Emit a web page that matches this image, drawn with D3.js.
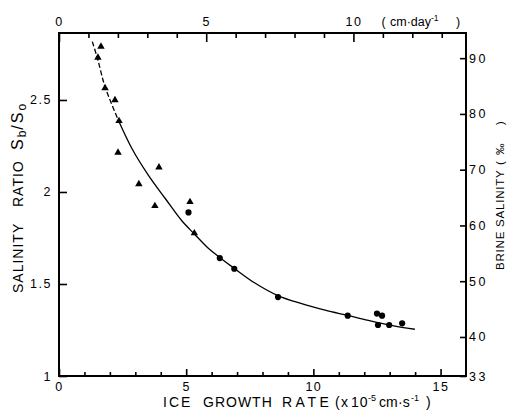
<!DOCTYPE html>
<html>
<head>
<meta charset="utf-8">
<script src="https://cdn.jsdelivr.net/npm/d3@7"></script>
<style>
  html, body { margin: 0; padding: 0; background: #fff; }
  svg { display: block; }
  text { font-family: "Liberation Sans", Arial, sans-serif; fill: #000; }
</style>
</head>
<body>
<svg id="chart" width="507" height="416"></svg>
<script>
// Brine salinity ratio Sb/So against ice growth rate (x10^-5 cm/s)
const triangleRate  = [1.65, 1.53, 1.81, 2.20, 2.36, 2.32, 3.93, 3.14, 3.77, 5.15, 5.32];
const triangleRatio = [2.79, 2.73, 2.565, 2.50, 2.386, 2.214, 2.134, 2.043, 1.924, 1.946, 1.776];
const circleRate  = [5.09, 6.32, 6.89, 8.61, 11.35, 12.50, 12.70, 12.54, 12.98, 13.49];
const circleRatio = [1.889, 1.641, 1.583, 1.429, 1.328, 1.339, 1.328, 1.277, 1.277, 1.286];

// fitted curve: dashed upper end, solid remainder
const fitUpperRate  = [1.31, 1.51, 1.81, 2.33];
const fitUpperRatio = [2.817, 2.727, 2.572, 2.391];
const fitLowerRate  = [2.33, 2.86, 3.51, 4.17, 4.82, 5.32, 5.87, 6.33, 6.89, 7.70, 8.60, 9.54, 10.46, 11.35, 12.16, 13.21, 13.99];
const fitLowerRatio = [2.391, 2.238, 2.092, 1.966, 1.845, 1.772, 1.694, 1.643, 1.585, 1.505, 1.437, 1.393, 1.358, 1.329, 1.302, 1.271, 1.254];

// axis ticks
const bottomMajor = [0, 5, 10, 15];
const bottomMinor = [1, 2, 3, 4, 6, 7, 8, 9, 11, 12, 13, 14];
const topMajor = [0, 5, 10];
const topMinor = [1, 2, 3, 4, 6, 7, 8, 9, 11, 12, 13];
const leftTicks = [1, 1.5, 2, 2.5];
const rightTicks = [33, 40, 50, 60, 70, 80, 90];

const rateMax = 16;          // x10^-5 cm/s
const ratioMax = 2.864;
const seawaterSalinity = 33; // So, per mille
const cmPerDay = 0.864;      // 1x10^-5 cm/s in cm/day

const svg = d3.select("#chart");
const L = 59, R = 466, T = 33, B = 376;

const x = d3.scaleLinear().domain([0, rateMax]).range([L, R]);
const y = d3.scaleLinear().domain([1, ratioMax]).range([B, T]);
const xTop = d3.scaleLinear().domain([0, rateMax * cmPerDay]).range([L, R]);
const yRight = d3.scaleLinear().domain([seawaterSalinity, ratioMax * seawaterSalinity]).range([B, T]);

function styleAxis(g, size, spacing) {
  g.select(".domain").remove();
  g.selectAll(".tick line").attr("stroke", "#000").attr("stroke-width", 1.6);
  g.selectAll(".tick text")
    .attr("font-family", "Liberation Sans, Arial, sans-serif")
    .attr("font-size", size)
    .attr("letter-spacing", spacing)
    .attr("fill", "#000");
}

// bottom axis
svg.append("g").attr("transform", `translate(0,${B})`)
  .call(d3.axisBottom(x).tickValues(bottomMinor).tickSizeInner(-4).tickSizeOuter(0).tickFormat(""))
  .call(g => styleAxis(g, 12, 0));
svg.append("g").attr("transform", `translate(0,${B})`)
  .call(d3.axisBottom(x).tickValues(bottomMajor).tickSizeInner(-7).tickSizeOuter(0).tickPadding(6).tickFormat(d => String(d)))
  .call(g => styleAxis(g, 12.5, 1.5));

// top axis (cm per day)
svg.append("g").attr("transform", `translate(0,${T})`)
  .call(d3.axisTop(xTop).tickValues(topMinor).tickSizeInner(-5).tickSizeOuter(0).tickFormat(""))
  .call(g => styleAxis(g, 12, 0));
svg.append("g").attr("transform", `translate(0,${T})`)
  .call(d3.axisTop(xTop).tickValues(topMajor).tickSizeInner(-9).tickSizeOuter(0).tickPadding(7).tickFormat(d => String(d)))
  .call(g => styleAxis(g, 12.5, 1.5));

// left axis (ratio)
svg.append("g").attr("transform", `translate(${L},0)`)
  .call(d3.axisLeft(y).tickValues(leftTicks).tickSizeInner(-8).tickSizeOuter(0).tickPadding(7).tickFormat(d => String(d)))
  .call(g => styleAxis(g, 12.5, 1.5));

// right axis (brine salinity)
svg.append("g").attr("transform", `translate(${R},0)`)
  .call(d3.axisRight(yRight).tickValues(rightTicks).tickSizeInner(-6).tickSizeOuter(0).tickPadding(3).tickFormat(d => String(d)))
  .call(g => styleAxis(g, 12.5, 2.5));

// frame
svg.append("rect")
  .attr("x", L).attr("y", T).attr("width", R - L).attr("height", B - T)
  .attr("fill", "none").attr("stroke", "#000").attr("stroke-width", 2);

// fitted curve
const line = d3.line().x(d => x(d[0])).y(d => y(d[1])).curve(d3.curveCatmullRom.alpha(0.5));
svg.append("path").datum(d3.zip(fitUpperRate, fitUpperRatio))
  .attr("d", line).attr("fill", "none").attr("stroke", "#000")
  .attr("stroke-width", 1.3).attr("stroke-dasharray", "5,2.5");
svg.append("path").datum(d3.zip(fitLowerRate, fitLowerRatio))
  .attr("d", line).attr("fill", "none").attr("stroke", "#000").attr("stroke-width", 1.3);

// observations
svg.append("g").selectAll("path").data(d3.zip(triangleRate, triangleRatio)).join("path")
  .attr("transform", d => `translate(${x(d[0])},${y(d[1])})`)
  .attr("d", d3.symbol().type(d3.symbolTriangle).size(24))
  .attr("fill", "#000");
svg.append("g").selectAll("path").data(d3.zip(circleRate, circleRatio)).join("path")
  .attr("transform", d => `translate(${x(d[0])},${y(d[1])})`)
  .attr("d", d3.symbol().type(d3.symbolCircle).size(30))
  .attr("fill", "#000");

// bottom title
const bt = svg.append("text").attr("y", 406.5).attr("font-size", 14);
bt.append("tspan").attr("x", 163).attr("letter-spacing", 2).text("ICE");
bt.append("tspan").attr("x", 203).attr("letter-spacing", 1).text("GROWTH");
bt.append("tspan").attr("x", 282).attr("letter-spacing", 3.5).text("RATE");
bt.append("tspan").attr("x", 335).text("(");
bt.append("tspan").attr("x", 341).text("x");
bt.append("tspan").attr("x", 351).attr("letter-spacing", 1).text("10");
bt.append("tspan").attr("x", 368).attr("font-size", 9).attr("dy", -6).text("-5");
bt.append("tspan").attr("x", 379).attr("dy", 6).text("cm");
bt.append("tspan").attr("x", 398).text("·s");
bt.append("tspan").attr("x", 411).attr("font-size", 9).attr("dy", -6).text("-1");
bt.append("tspan").attr("x", 426).attr("dy", 6).text(")");

// top unit label
const tt = svg.append("text").attr("y", 26).attr("font-size", 12.5);
tt.append("tspan").attr("x", 381.5).text("(");
tt.append("tspan").attr("x", 390).text("cm·day");
tt.append("tspan").attr("font-size", 8.5).attr("dy", -5).text("-1");
tt.append("tspan").attr("x", 456).attr("dy", 5).text(")");

// left title
const lt = svg.append("text").attr("transform", "translate(23,293) rotate(-90)")
  .attr("font-size", 14).attr("letter-spacing", 1);
lt.append("tspan").text("SALINITY");
lt.append("tspan").attr("x", 86).text("RATIO");
lt.append("tspan").attr("x", 143).attr("font-size", 16).attr("letter-spacing", 2).text("S");
lt.append("tspan").attr("font-size", 12).attr("dy", 3).text("b");
lt.append("tspan").attr("font-size", 16).attr("dy", -3).attr("letter-spacing", 2).text("/S");
lt.append("tspan").attr("font-size", 12).attr("dy", 3).text("o");

// right title
const rt = svg.append("text").attr("transform", "translate(503.5,270) rotate(-90)")
  .attr("font-size", 11.5).attr("letter-spacing", 0.8);
rt.append("tspan").text("BRINE");
rt.append("tspan").attr("x", 43).text("SALINITY");
rt.append("tspan").attr("x", 105).text("(");
rt.append("tspan").attr("x", 115).text("‰");
rt.append("tspan").attr("x", 145).text(")");
</script>
</body>
</html>
